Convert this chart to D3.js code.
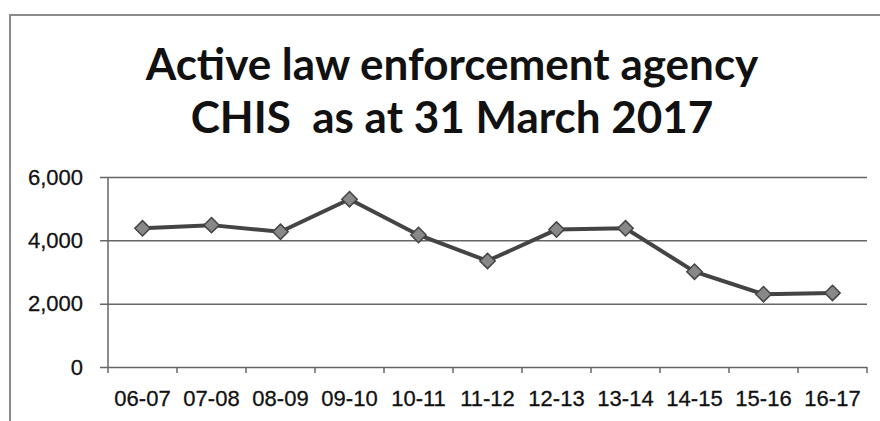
<!DOCTYPE html>
<html>
<head>
<meta charset="utf-8">
<script src="https://cdn.jsdelivr.net/npm/d3@7"></script>
<style>
  body { margin: 0; background: #fff; }
  svg { display: block; font-family: Lato, "Open Sans", sans-serif; }
</style>
</head>
<body>
<script>
var years = ["06-07", "07-08", "08-09", "09-10", "10-11", "11-12", "12-13", "13-14", "14-15", "15-16", "16-17"];
var chis = [4380, 4480, 4270, 5300, 4170, 3350, 4340, 4380, 3010, 2300, 2340];
var yTicks = [0, 2000, 4000, 6000];
var titleLines = ["Active law enforcement agency", "CHIS  as at 31 March 2017"];

var W = 880, H = 421;
var margin = { top: 177, right: 13, bottom: 54, left: 108 },
  width = W - margin.left - margin.right,
  height = H - margin.top - margin.bottom;

var root = d3.select("body").append("svg")
  .attr("width", W)
  .attr("height", H);

// chart frame (only top and left edges are in view)
root.append("path")
  .attr("d", "M10," + H + "V15H" + W)
  .attr("fill", "none")
  .attr("stroke", "#8a8a8a")
  .attr("stroke-width", 2);

// title
root.append("text")
  .attr("x", 452)
  .attr("y", 80)
  .attr("text-anchor", "middle")
  .attr("font-size", 44)
  .attr("font-weight", "bold")
  .attr("fill", "#111")
  .selectAll("tspan")
  .data(titleLines)
  .enter().append("tspan")
  .attr("x", 452)
  .attr("dy", function (d, i) { return i == 0 ? 0 : 53; })
  .style("white-space", "pre")
  .text(function (d) { return d; });

var svg = root.append("g")
  .attr("transform", "translate(" + margin.left + "," + margin.top + ")");

var x = d3.scaleBand()
  .domain(years)
  .range([0, width]);

var y = d3.scaleLinear()
  .domain([0, 6000])
  .range([height, 0]);

// gridlines + y axis
var yAxis = svg.append("g")
  .call(d3.axisLeft(y).tickValues(yTicks).tickSize(-width).tickPadding(25)
    .tickFormat(d3.format(",")));
yAxis.select(".domain").remove();
yAxis.selectAll(".tick line")
  .attr("x1", -8)
  .attr("stroke", "#666")
  .attr("stroke-width", 1.5);
yAxis.selectAll("text")
  .attr("font-size", 22)
  .attr("fill", "#111")
  .attr("stroke", "#111")
  .attr("stroke-width", 0.3);

svg.append("line")
  .attr("x1", 0).attr("x2", 0)
  .attr("y1", 0).attr("y2", height)
  .attr("stroke", "#666")
  .attr("stroke-width", 1.5);

// x axis, ticks between categories
var xAxis = svg.append("g")
  .attr("transform", "translate(0," + height + ")")
  .call(d3.axisBottom(x).tickSize(0).tickPadding(23));
xAxis.select(".domain").remove();
xAxis.selectAll("text")
  .attr("font-size", 22)
  .attr("fill", "#111")
  .attr("stroke", "#111")
  .attr("stroke-width", 0.3);
xAxis.selectAll(".sep")
  .data(d3.range(years.length + 1))
  .enter().append("line")
  .attr("class", "sep")
  .attr("x1", function (i) { return i * x.bandwidth(); })
  .attr("x2", function (i) { return i * x.bandwidth(); })
  .attr("y1", 0)
  .attr("y2", 6)
  .attr("stroke", "#666")
  .attr("stroke-width", 1.5);

// series
var pts = years.map(function (d, i) { return [x(d) + x.bandwidth() / 2, y(chis[i])]; });

svg.append("path")
  .attr("d", d3.line()(pts))
  .attr("fill", "none")
  .attr("stroke", "#444")
  .attr("stroke-width", 4);

svg.selectAll(".mark")
  .data(pts)
  .enter().append("path")
  .attr("class", "mark")
  .attr("transform", function (d) { return "translate(" + d[0] + "," + d[1] + ")"; })
  .attr("d", d3.symbol().type(d3.symbolDiamond2).size(150))
  .attr("fill", "#888")
  .attr("stroke", "#444")
  .attr("stroke-width", 1.5);
</script>
</body>
</html>
